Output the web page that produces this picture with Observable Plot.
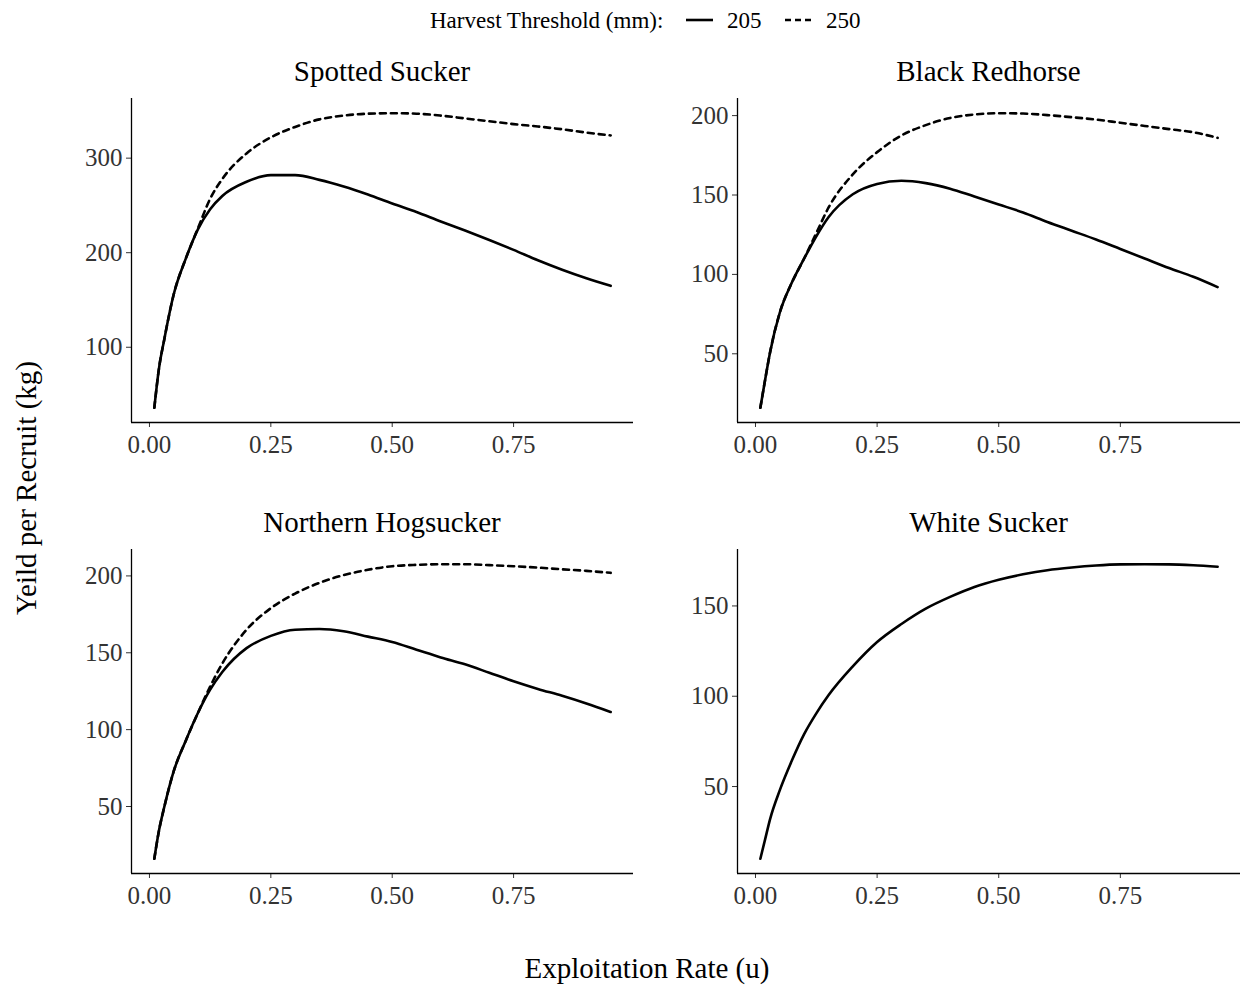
<!DOCTYPE html>
<html>
<head>
<meta charset="utf-8">
<script src="https://cdn.jsdelivr.net/npm/d3@7"></script>
<script src="https://cdn.jsdelivr.net/npm/@observablehq/plot@0.6"></script>
<style>
  body { margin: 0; background: #fff; }
  #root { position: relative; width: 1243px; height: 990px; background: #fff; overflow: hidden; }
  #root svg { position: absolute; }
</style>
</head>
<body>
<div id="root"></div>
<script>
// Exploitation rate grid (u)
const u = [0.01, 0.02, 0.03, 0.05, 0.075, 0.10, 0.125, 0.15, 0.20, 0.25, 0.30, 0.35, 0.40, 0.45, 0.50, 0.55, 0.60, 0.65, 0.70, 0.75, 0.80, 0.85, 0.90, 0.95];

// Yield per recruit (kg), harvest threshold 205 mm and 250 mm
const spotted205 = [36, 79, 107, 156, 194, 225, 246, 260, 275, 282, 282, 277, 270, 261.5, 252, 243, 233, 223.5, 213.5, 203, 192, 182, 173, 165];
const spotted250 = [36, 79, 107, 156, 194, 226, 257, 278, 305, 322, 333, 341, 345, 347, 347.5, 347, 345, 342, 339, 336, 333.5, 330.5, 327, 324];

const redhorse205 = [16, 34, 51, 76, 95, 110, 124, 136, 150.5, 157, 159, 157.5, 154, 149, 144, 139, 133, 127.5, 122, 116, 110, 104, 98.5, 92];
const redhorse250 = [16, 34, 51, 76, 95, 110, 126, 142, 163, 177, 187.5, 194, 198.5, 200.7, 201.5, 201.3, 200.3, 199, 197.5, 195.5, 193.5, 191.5, 189.5, 186];

const hogsucker205 = [16, 35, 49, 73, 93, 111, 126, 137.5, 153, 161, 165, 165.5, 164, 160.5, 157, 152, 147, 142.5, 137, 131.5, 126.5, 122, 117, 111.5];
const hogsucker250 = [16, 35, 49, 73, 93, 111, 128, 143, 165, 179, 188.5, 195.5, 200.5, 204, 206.3, 207.2, 207.6, 207.6, 207, 206.3, 205.4, 204.3, 203.3, 202];

const white205 = [10, 21, 32, 48, 64.5, 79, 90.5, 100.5, 116.5, 130, 140, 148.5, 155, 160.5, 164.5, 167.5, 169.8, 171.3, 172.4, 173, 173.1, 173, 172.5, 171.7];

const speciesNames = ["Spotted Sucker", "Black Redhorse", "Northern Hogsucker", "White Sucker"];
const xTicks = [0, 0.25, 0.5, 0.75];
const yTicksSpotted = [100, 200, 300];
const yTicksRedhorse = [50, 100, 150, 200];
const yTicksHogsucker = [50, 100, 150, 200];
const yTicksWhite = [50, 100, 150];
const thresholds = ["205", "250"];
const legendTitle = "Harvest Threshold (mm):";
const xTitle = "Exploitation Rate (u)";
const yTitle = "Yeild per Recruit (kg)";

const FONT = '"Liberation Serif", "Times New Roman", serif';
const root = document.getElementById("root");

function expand(arr) {
  const lo = d3.min(arr), hi = d3.max(arr), pad = (hi - lo) * 0.05;
  return [lo - pad, hi + pad];
}
const xDom = expand(u);

const panels = [
  {name: speciesNames[0], s205: spotted205, s250: spotted250, ticks: yTicksSpotted, left: 0, top: 95, width: 640, mL: 131, mR: 7},
  {name: speciesNames[1], s205: redhorse205, s250: redhorse250, ticks: yTicksRedhorse, left: 640, top: 95, width: 603, mL: 97, mR: 3},
  {name: speciesNames[2], s205: hogsucker205, s250: hogsucker250, ticks: yTicksHogsucker, left: 0, top: 546, width: 640, mL: 131, mR: 7},
  {name: speciesNames[3], s205: white205, s250: null, ticks: yTicksWhite, left: 640, top: 546, width: 603, mL: 97, mR: 3}
];

const SVGNS = "http://www.w3.org/2000/svg";
const overlay = document.createElementNS(SVGNS, "svg");
overlay.setAttribute("width", 1243);
overlay.setAttribute("height", 990);
overlay.style.left = "0px"; overlay.style.top = "0px";
overlay.style.fontFamily = FONT;
root.appendChild(overlay);

function addText(txt, x, y, size, anchor, rotate) {
  const t = document.createElementNS(SVGNS, "text");
  t.textContent = txt;
  t.setAttribute("x", x); t.setAttribute("y", y);
  t.setAttribute("font-size", size);
  t.setAttribute("text-anchor", anchor || "middle");
  t.setAttribute("fill", "#000");
  if (rotate) t.setAttribute("transform", `rotate(${rotate} ${x} ${y})`);
  overlay.appendChild(t);
  return t;
}
function addLine(x1, x2, y, dash) {
  const l = document.createElementNS(SVGNS, "line");
  l.setAttribute("x1", x1); l.setAttribute("x2", x2);
  l.setAttribute("y1", y); l.setAttribute("y2", y);
  l.setAttribute("stroke", "#000"); l.setAttribute("stroke-width", 2.6);
  if (dash) l.setAttribute("stroke-dasharray", dash);
  overlay.appendChild(l);
}

// Legend
addText(legendTitle, 430, 28, 23, "start");
addLine(686, 713, 20, null);
addText(thresholds[0], 727, 28, 23, "start");
addLine(785, 813, 20, "6,4");
addText(thresholds[1], 826, 28, 23, "start");

// Axis titles
addText(xTitle, 647, 978, 29, "middle");
addText(yTitle, 36, 488, 29, "middle", -90);

panels.forEach(p => {
  const H = 375, mT = 3, mB = 48;
  const all = p.s250 ? p.s205.concat(p.s250) : p.s205;
  const yDom = expand(all);
  const d205 = u.map((x, i) => ({u: x, v: p.s205[i]}));
  const marks = [
    Plot.axisX({ticks: xTicks, tickFormat: d3.format(".2f"), tickSize: 5, tickPadding: 8, label: null, stroke: "#333"}),
    Plot.axisY({ticks: p.ticks, tickSize: 5, tickPadding: 4, label: null, stroke: "#333"}),
    Plot.ruleX([xDom[0]], {stroke: "#000", strokeWidth: 1.3}),
    Plot.ruleY([yDom[0]], {stroke: "#000", strokeWidth: 1.3}),
    Plot.line(d205, {x: "u", y: "v", curve: "monotone-x", stroke: "#000", strokeWidth: 2.6})
  ];
  if (p.s250) {
    const d250 = u.map((x, i) => ({u: x, v: p.s250[i]}));
    marks.push(Plot.line(d250, {x: "u", y: "v", curve: "monotone-x", stroke: "#000", strokeWidth: 2.6, strokeDasharray: "6,5"}));
  }
  const chart = Plot.plot({
    width: p.width, height: H,
    marginLeft: p.mL, marginRight: p.mR, marginTop: mT, marginBottom: mB,
    style: {fontFamily: FONT, fontSize: "25px", color: "#333", background: "transparent", overflow: "visible"},
    x: {domain: xDom},
    y: {domain: yDom},
    marks
  });
  chart.style.left = p.left + "px";
  chart.style.top = p.top + "px";
  root.appendChild(chart);
  // Facet strip title
  const cx = p.left + p.mL + (p.width - p.mL - p.mR) / 2;
  addText(p.name, cx, p.top - 14, 29, "middle");
});
</script>
</body>
</html>
